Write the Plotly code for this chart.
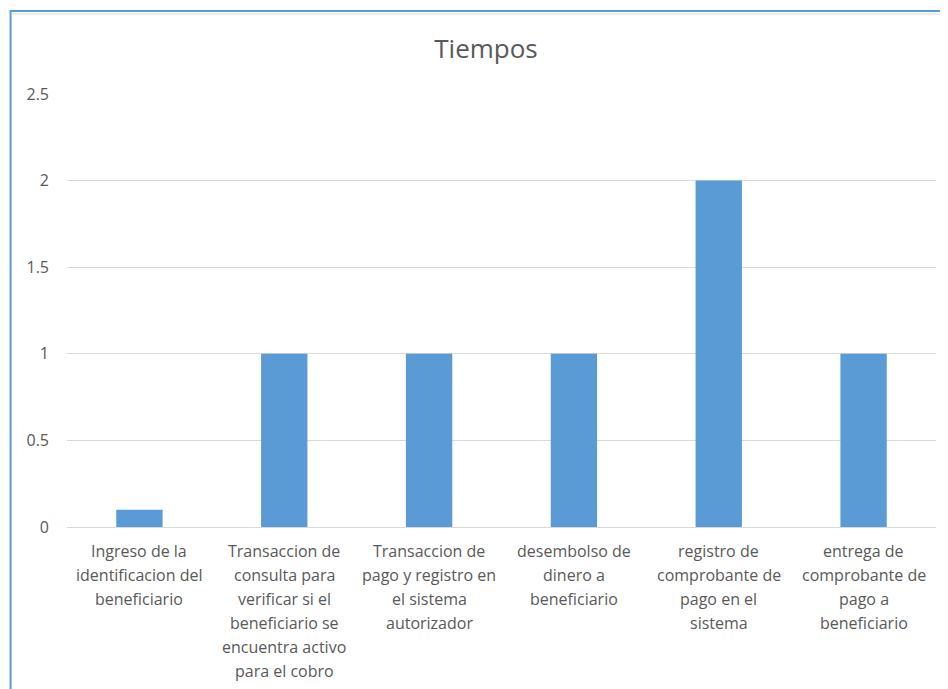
import plotly.graph_objects as go

categories = [
    "Ingreso de la<br>identificacion del<br>beneficiario",
    "Transaccion de<br>consulta para<br>verificar si el<br>beneficiario se<br>encuentra activo<br>para el cobro",
    "Transaccion de<br>pago y registro en<br>el sistema<br>autorizador",
    "desembolso de<br>dinero a<br>beneficiario",
    "registro de<br>comprobante de<br>pago en el<br>sistema",
    "entrega de<br>comprobante de<br>pago a<br>beneficiario",
]
values = [0.1, 1, 1, 1, 2, 1]
y_ticks = [0, 0.5, 1, 1.5, 2, 2.5]
y_tick_labels = ["0", "0.5", "1", "1.5", "2", "2.5"]

FONT = "'Open Sans', Lato, sans-serif"
GRAY = "#595959"

fig = go.Figure(go.Bar(x=list(range(len(categories))), y=values,
                       marker=dict(color="#5B9BD5", line=dict(width=0)),
                       width=0.32))

# category labels, one annotation per wrapped line (Excel-like line spacing)
for i, cat in enumerate(categories):
    for j, line in enumerate(cat.split("<br>")):
        fig.add_annotation(x=i, y=0, xref="x", yref="y", text=line,
                           showarrow=False, yanchor="middle", xanchor="center",
                           yshift=-(24 + 24 * j),
                           font=dict(family=FONT, size=16, color=GRAY))

# page has an 8px body margin; figure drawn in the remaining 940x681 area
OFF = 8
W, H = 948 - OFF, 689 - OFF
l, r, t, b = 66.5 - OFF, 11.5, 94 - OFF, 162
pw, ph = W - l - r, H - t - b

fig.add_shape(type="rect", xref="paper", yref="paper",
              x0=(10 - OFF - l) / pw, x1=1.2, y0=-0.6,
              y1=(H - b - (11 - OFF)) / ph,
              line=dict(color="#5B9BD5", width=2), layer="below")
fig.add_shape(type="line", xref="paper", yref="paper",
              x0=(11 - OFF - l) / pw, x1=1.2,
              y0=(H - b - (14 - OFF)) / ph, y1=(H - b - (14 - OFF)) / ph,
              line=dict(color="#D9D9D9", width=1), layer="below")

fig.update_layout(
    width=W, height=H,
    margin=dict(l=l, r=r, t=t, b=b),
    paper_bgcolor="white", plot_bgcolor="white",
    showlegend=False,
    title=dict(text="Tiempos", x=(486 - OFF) / W, xref="container",
               xanchor="center", y=1 - (49 - OFF) / H, yref="container",
               yanchor="middle",
               font=dict(family=FONT, size=26, color=GRAY)),
    xaxis=dict(range=[-0.5, len(categories) - 0.5], showticklabels=False,
               showgrid=False, zeroline=False, showline=False, ticks="",
               fixedrange=True),
    yaxis=dict(range=[0, 2.5], tickvals=y_ticks, ticktext=y_tick_labels,
               showgrid=True, gridcolor="#D9D9D9", gridwidth=1,
               zeroline=True, zerolinecolor="#D9D9D9", zerolinewidth=1,
               showline=False, ticks="", ticklabelstandoff=17,
               tickfont=dict(family=FONT, size=16, color=GRAY)),
)

fig.write_html("out.html")
